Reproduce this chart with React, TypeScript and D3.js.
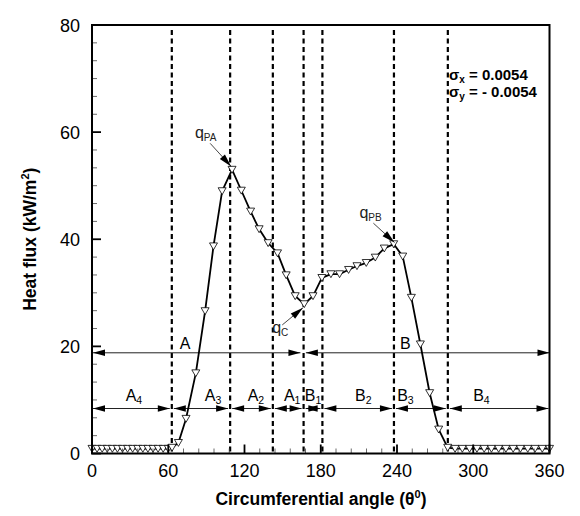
import React from 'react';
import * as d3 from 'd3';

const angles = [0, 4, 8, 12, 16, 20, 24, 28, 32, 36, 40, 44, 48, 52, 56, 60, 63, 68, 74, 81.7, 89, 95.6, 102.4, 110.2, 117.5, 124.8, 131.5, 138.6, 146, 152.8, 159.9, 167, 173.9, 180.9, 188, 194.8, 201.9, 208.5, 215.8, 222.9, 230, 237.4, 244.5, 251.3, 258.4, 265.7, 272.8, 279.9, 285.7, 291.4, 297.1, 302.9, 308.6, 314.3, 320, 325.7, 331.4, 337.1, 342.9, 348.6, 354.3, 360];
const flux = [0.9, 0.9, 0.9, 0.9, 0.9, 0.9, 0.9, 0.9, 0.9, 0.9, 0.9, 0.9, 0.9, 0.9, 0.9, 0.9, 1.1, 2.0, 6.5, 15, 26.6, 38.7, 49, 53, 49.1, 45.2, 41.9, 39.3, 37.4, 33.3, 29.4, 27.9, 29.4, 32.8, 33.5, 33.5, 34.3, 35, 35.6, 36.6, 38.3, 39.1, 36.8, 29.1, 20.4, 11.3, 4.5, 1.1, 0.9, 0.9, 0.9, 0.9, 0.9, 0.9, 0.9, 0.9, 0.9, 0.9, 0.9, 0.9, 0.9, 0.9];

const dividers = [62.8, 108.7, 142.3, 166.5, 181.3, 237.6, 280];
const xTicks = [0, 60, 120, 180, 240, 300, 360];
const yTicks = [0, 20, 40, 60, 80];

const regionNames = ['A', 'B'];
const regionStart = [0, 167.5];
const regionEnd = [164, 360];
const regionLabelAngle = [73.3, 246.6];
const regionLevel = 18.8;

const zoneNames = ['A', 'A', 'A', 'A', 'B', 'B', 'B', 'B'];
const zoneSubs = ['4', '3', '2', '1', '1', '2', '3', '4'];
const zoneBounds = [0, 62.8, 108.7, 142.3, 166.5, 181.3, 237.6, 280, 360];
const zoneLabelAngle = [33, 95.3, 129, 157.5, 174, 213.5, 246.6, 306.4];
const zoneLevel = 8.4;

const peakSubs = ['PA', 'C', 'PB'];
const peakLabelAt = [[81, 58.9], [141.8, 22.5], [210.4, 44]];
const peakArrowFrom = [[93, 57.9], [149.7, 24], [221.4, 43]];
const peakArrowTo = [[109.5, 53.6], [166, 27.2], [238, 39.4]];

const W = 580, H = 516;
const x = d3.scaleLinear().domain([0, 360]).range([92, 549.5]);
const y = d3.scaleLinear().domain([0, 80]).range([453.5, 25]);

const FONT = '"Liberation Sans", Arial, Helvetica, sans-serif';

function head(tx: number, ty: number, fx: number, fy: number, len = 12, hw = 3.3) {
  const dx = tx - fx, dy = ty - fy;
  const d = Math.hypot(dx, dy) || 1;
  const ux = dx / d, uy = dy / d;
  const bx = tx - ux * len, by = ty - uy * len;
  const px = -uy * hw, py = ux * hw;
  return `M${tx},${ty}L${bx + px},${by + py}L${bx - px},${by - py}Z`;
}

function DoubleArrow({ x1, x2, yy }: { x1: number; x2: number; yy: number }) {
  return (
    <g>
      <line x1={x1} x2={x2} y1={yy} y2={yy} stroke="#222" strokeWidth={1} />
      <path d={head(x1, yy, x2, yy)} fill="#000" />
      <path d={head(x2, yy, x1, yy)} fill="#000" />
    </g>
  );
}

export default function App() {
  const line = d3.line<number>().x((_, i) => x(angles[i])).y((v) => y(v));
  const pathD = line(flux) || '';
  const minorX = d3.range(0, 361, 12).filter((v) => v % 60 !== 0);
  const minorY = d3.range(0, 80.01, 20 / 6).filter((v) => Math.abs(v / 20 - Math.round(v / 20)) > 0.01);
  const [x0, x1] = x.range();
  const [y0, y1] = y.range();
  return (
    <svg width={W} height={H} style={{ position: 'absolute', left: 0, top: 0, background: '#fff' }} fontFamily={FONT}>
      <rect x={0} y={0} width={W} height={H} fill="#fff" />
      {dividers.map((d, i) => (
        <line key={'dv' + i} x1={x(d)} x2={x(d)} y1={y1 + 5} y2={y0} stroke="#000" strokeWidth={2.2} strokeDasharray="5,3.5" />
      ))}
      {regionNames.map((n, i) => (
        <g key={'rg' + i}>
          <DoubleArrow x1={x(regionStart[i]) + 1} x2={x(regionEnd[i])} yy={y(regionLevel)} />
          <text x={x(regionLabelAngle[i])} y={y(regionLevel) - 3.5} fontSize={16} textAnchor="middle">{n}</text>
        </g>
      ))}
      {zoneNames.map((n, i) => (
        <g key={'zn' + i}>
          <DoubleArrow x1={x(zoneBounds[i]) + (i === 0 ? 1 : 2)} x2={x(zoneBounds[i + 1]) - (i === 7 ? 1 : 2)} yy={y(zoneLevel)} />
          <text x={x(zoneLabelAngle[i])} y={y(zoneLevel) - 7.5} fontSize={16} textAnchor="middle">
            {n}
            <tspan fontSize={10.5} dy={3}>{zoneSubs[i]}</tspan>
          </text>
        </g>
      ))}
      <path d={pathD} fill="none" stroke="#000" strokeWidth={1.8} strokeLinejoin="round" />
      {flux.map((v, i) => {
        const cx = x(angles[i]), cy = y(v);
        return (
          <path key={'m' + i} d={`M${cx - 4},${cy - 3.3}L${cx + 4},${cy - 3.3}L${cx},${cy + 3.6}Z`} fill="#fff" stroke="#000" strokeWidth={0.8} />
        );
      })}
      {peakSubs.map((s, i) => {
        const fx = x(peakArrowFrom[i][0]), fy = y(peakArrowFrom[i][1]);
        const tx = x(peakArrowTo[i][0]), ty = y(peakArrowTo[i][1]);
        return (
          <g key={'pk' + i}>
            <line x1={fx} y1={fy} x2={tx} y2={ty} stroke="#333" strokeWidth={0.9} />
            <path d={head(tx, ty, fx, fy, 13, 3.4)} fill="#000" />
            <text x={x(peakLabelAt[i][0])} y={y(peakLabelAt[i][1])} fontSize={16} fill="#222">
              q<tspan fontSize={10} dy={3}>{s}</tspan>
            </text>
          </g>
        );
      })}
      <g fontWeight="bold" fontSize={15}>
        <text x={449} y={80}>σ<tspan fontSize={10} dy={3}>x</tspan><tspan dy={-3}> = 0.0054</tspan></text>
        <text x={449} y={97}>σ<tspan fontSize={10} dy={3}>y</tspan><tspan dy={-3}> = - 0.0054</tspan></text>
      </g>
      {minorX.map((t) => (
        <line key={'mx' + t} x1={x(t)} x2={x(t)} y1={y0} y2={y0 - 5} stroke="#444" strokeWidth={0.8} />
      ))}
      {xTicks.map((t) => (
        <line key={'Mx' + t} x1={x(t)} x2={x(t)} y1={y0} y2={y0 - 9} stroke="#000" strokeWidth={1.8} />
      ))}
      {minorY.map((t) => (
        <line key={'my' + t} x1={x0} x2={x0 + 5} y1={y(t)} y2={y(t)} stroke="#444" strokeWidth={0.8} />
      ))}
      {yTicks.map((t) => (
        <line key={'My' + t} x1={x0} x2={x0 + 9} y1={y(t)} y2={y(t)} stroke="#000" strokeWidth={1.8} />
      ))}
      <rect x={x0} y={y1} width={x1 - x0} height={y0 - y1} fill="none" stroke="#000" strokeWidth={2} />
      {xTicks.map((t) => (
        <text key={'lx' + t} x={x(t)} y={476.5} fontSize={18} textAnchor="middle">{t}</text>
      ))}
      {yTicks.map((t) => (
        <text key={'ly' + t} x={80} y={y(t) + 6.5} fontSize={18} textAnchor="end">{t}</text>
      ))}
      <text x={321} y={505} fontSize={17.5} fontWeight="bold" textAnchor="middle">
        Circumferential angle (θ<tspan fontSize={11} dy={-7}>0</tspan><tspan dy={7}>)</tspan>
      </text>
      <text transform={`translate(36,${(y0 + y1) / 2}) rotate(-90)`} fontSize={17.5} fontWeight="bold" textAnchor="middle">
        Heat flux (kW/m<tspan fontSize={11} dy={-7}>2</tspan><tspan dy={7}>)</tspan>
      </text>
    </svg>
  );
}
